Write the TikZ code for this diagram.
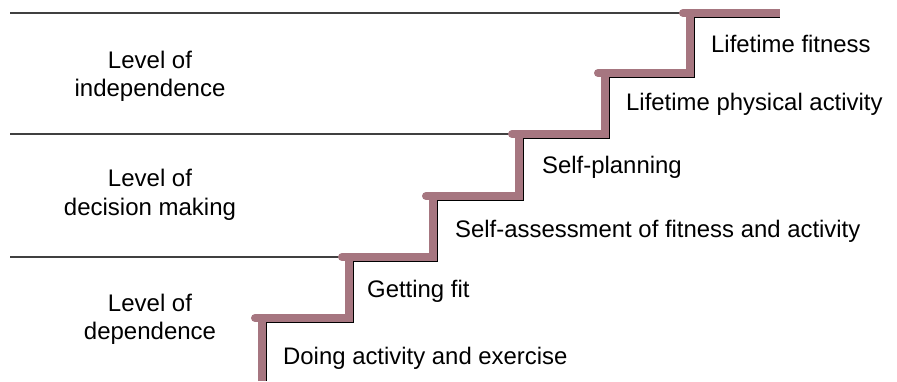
\documentclass[tikz,border=0pt]{standalone}
\usepackage{fontspec}
\setmainfont{Liberation Sans}
\usepackage{tikz}
\usetikzlibrary{positioning}
\definecolor{mauve}{RGB}{166,118,128}
\tikzset{
	x=1pt, y=-1pt,
	stair/.style={line width=8pt, mauve, line join=miter},
	nosing/.style={line width=8pt, mauve, line cap=round},
	inner edge/.style={line width=1.3pt, black},
	divider/.style={line width=1.2pt, black!75},
	level/.style={align=center, inner sep=0pt, font=\fontsize{24}{28.5}\selectfont},
	stepnote/.style={anchor=base west, inner sep=0pt, font=\fontsize{23.9}{28}\selectfont}}

\begin{document}
\begin{tikzpicture}
		\useasboundingbox (0,0) rectangle (897,381);
		
		% levels
		\draw[divider] (10,13) -- (683,13);
		\draw[divider] (10,134) -- (512,134);
		\draw[divider] (10,257) -- (342,257);
		\node[level] (indep) at (150,76.5) {Level of\\independence};
		\node[level] (decis) at (150,195) {Level of\\decision making};
		\node[level] (depend) at (150,319.5) {Level of\\dependence};
		
		% stairs
		\draw[inner edge] (266.5,381) -- (266.5,322.5) -- (353.5,322.5) -- (353.5,261.5)
			-- (437.5,261.5) -- (437.5,200.5) -- (523.5,200.5) -- (523.5,138.5)
			-- (609.5,138.5) -- (609.5,77.5) -- (694.5,77.5) -- (694.5,17.5) -- (780,17.5);
		\draw[stair] (262,381) -- (262,318) -- (349,318) -- (349,257) -- (433,257)
			-- (433,196) -- (519,196) -- (519,134) -- (605,134) -- (605,73)
			-- (690,73) -- (690,13) -- (780,13);
		\draw[nosing] (255,318) -- (262,318);
		\draw[nosing] (342,257) -- (349,257);
		\draw[nosing] (426,196) -- (433,196);
		\draw[nosing] (512,134) -- (519,134);
		\draw[nosing] (598,73) -- (605,73);
		\draw[nosing] (683,13) -- (690,13);
		
		% steps
		\node[stepnote] (doing) at (283,364) {Doing activity and exercise};
		\node[stepnote] (fit) at (367,297) {Getting fit};
		\node[stepnote] (assess) at (455,237) {Self-assessment of fitness and activity};
		\node[stepnote] (plan) at (542,173) {Self-planning};
		\node[stepnote] (activity) at (626,110) {Lifetime physical activity};
		\node[stepnote] (fitness) at (711,52) {Lifetime fitness};
	\end{tikzpicture}
\end{document}
